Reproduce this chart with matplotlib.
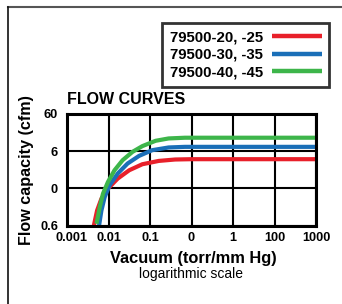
import matplotlib
matplotlib.use("Agg")
import matplotlib.pyplot as plt
from matplotlib.lines import Line2D
from matplotlib.transforms import ScaledTranslation

plt.rcParams['font.family'] = ['Liberation Sans', 'DejaVu Sans']

# Data (vacuum in torr, flow in cfm)
series_labels = ["79500-20, -25", "79500-30, -35", "79500-40, -45"]
series_colors = ["#e8202a", "#1a6fb8", "#3db54a"]

red_x = [0.00444, 0.00531, 0.00675, 0.00968, 0.0167, 0.0316, 0.0653, 0.163, 0.404, 1.0, 1000]
red_y = [0.06, 0.152, 0.316, 0.589, 1.10, 1.84, 2.67, 3.28, 3.58, 3.65, 3.65]

blue_x = [0.00593, 0.00675, 0.00809, 0.0106, 0.0167, 0.0288, 0.0546, 0.113, 0.281, 0.698, 1000]
blue_y = [0.06, 0.152, 0.349, 0.723, 1.50, 2.79, 4.48, 6.38, 7.55, 7.84, 7.84]

green_x = [0.00514, 0.00615, 0.00736, 0.00968, 0.01396, 0.0219, 0.0378, 0.0653, 0.136, 0.281, 0.698, 1000]
green_y = [0.0666, 0.1875, 0.431, 0.888, 1.84, 3.43, 5.74, 8.19, 11.4, 13.2, 13.8, 13.8]

x_ticks = [0.001, 0.01, 0.1, 1, 10, 100, 1000]
x_tick_labels = ["0.001", "0.01", "0.1", "0", "1", "100", "1000"]
y_ticks = [0.06, 0.6, 6, 60]
y_tick_labels = ["0.6", "0", "6", "60"]

W, H = 342, 304
fig = plt.figure(figsize=(W / 100, H / 100), dpi=100)

# outer frame lines
fig.add_artist(Line2D([8 / W, 1.0], [1 - 7 / H, 1 - 7 / H], color="#555555", lw=1.5, transform=fig.transFigure))
fig.add_artist(Line2D([8 / W, 8 / W], [0, 1 - 7 / H], color="#111111", lw=1.2, transform=fig.transFigure))

left, right = 67 / W, 316 / W
bottom, top = 1 - 225.5 / H, 1 - 114 / H
ax = fig.add_axes([left, bottom, right - left, top - bottom])
ax.set_xscale("log")
ax.set_yscale("log")
ax.set_xlim(0.001, 1000)
ax.set_ylim(0.06, 60)

ax.set_xticks(x_ticks)
ax.set_xticklabels(x_tick_labels)
ax.set_yticks(y_ticks)
ax.set_yticklabels(y_tick_labels)
ax.minorticks_off()
ax.tick_params(length=0, labelsize=9.2)
ax.tick_params(axis="x", pad=4.8)
ax.tick_params(axis="y", pad=6.5)
for lab in ax.get_xticklabels() + ax.get_yticklabels():
    lab.set_fontweight("bold")
first = ax.get_xticklabels()[0]
first.set_transform(first.get_transform() + ScaledTranslation(4 / 100, 0, fig.dpi_scale_trans))

ax.grid(True, color="black", lw=1.5)
ax.set_axisbelow(True)
for sp in ax.spines.values():
    sp.set_linewidth(2.2)

lines = []
for xs, ys, c, lbl in zip([red_x, blue_x, green_x], [red_y, blue_y, green_y], series_colors, series_labels):
    ln, = ax.plot(xs, ys, color=c, lw=3.0, solid_capstyle="butt", label=lbl)
    lines.append(ln)

ax.text(0.0, 1.1256, "FLOW CURVES", transform=ax.transAxes, fontsize=11.5, fontweight="bold",
        ha="left", va="center")
ax.set_ylabel("Flow capacity (cfm)", fontsize=11.6, fontweight="bold", va="center")
ax.yaxis.set_label_coords(-0.161, 0.5)
ax.set_xlabel("Vacuum (torr/mm Hg)", fontsize=11.8, fontweight="bold", va="center")
ax.xaxis.set_label_coords(0.506, -0.297)
fig.text(191 / W, 1 - 274 / H, "logarithmic scale", fontsize=10, ha="center", va="center")

leg = fig.legend(handles=lines, labels=series_labels, loc="upper left",
                 bbox_to_anchor=(162 / W, 1 - 23 / H), markerfirst=False,
                 fontsize=10.8, frameon=True, fancybox=False, edgecolor="black",
                 handlelength=3.3, handletextpad=0.65, labelspacing=0.22,
                 borderpad=0.5, borderaxespad=0)
leg.get_frame().set_linewidth(2)
for t in leg.get_texts():
    t.set_fontweight("bold")
for h in leg.legend_handles:
    h.set_linewidth(3.2)

fig.savefig("out.png", dpi=100)
